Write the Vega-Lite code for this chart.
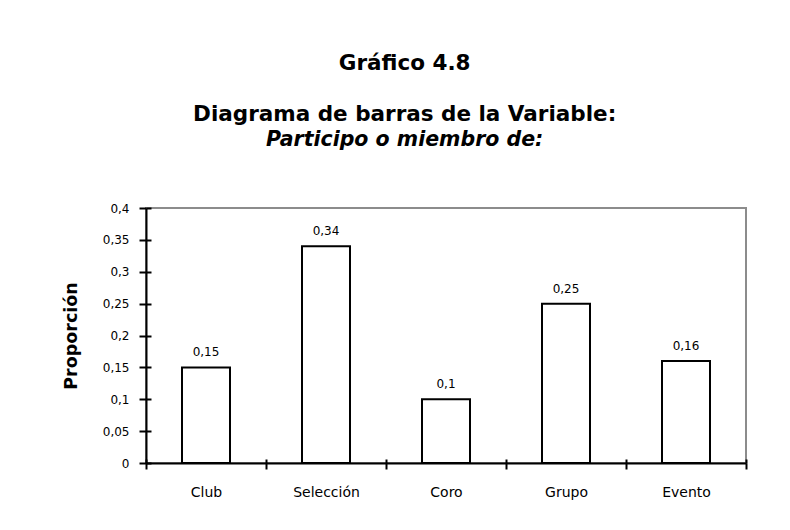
{
  "$schema": "https://vega.github.io/schema/vega-lite/v6.json",
  "width": 600,
  "height": 255,
  "autosize": {"type": "none"},
  "padding": {"left": 146, "top": 208, "right": 44, "bottom": 67},
  "background": "white",
  "data": {
    "values": [
      {"categoria": "Club", "proporcion": 0.15},
      {"categoria": "Selección", "proporcion": 0.34},
      {"categoria": "Coro", "proporcion": 0.1},
      {"categoria": "Grupo", "proporcion": 0.25},
      {"categoria": "Evento", "proporcion": 0.16}
    ]
  },
  "title": {
    "text": ["Gráfico 4.8", "Diagrama de barras de la Variable:"],
    "subtitle": "Participo o miembro de:",
    "font": "DejaVu Sans",
    "fontSize": 21.5,
    "fontWeight": "bold",
    "color": "black",
    "lineHeight": 51,
    "subtitleFont": "DejaVu Sans",
    "subtitleFontSize": 20.5,
    "subtitleFontWeight": "bold",
    "subtitleFontStyle": "italic",
    "subtitleColor": "black",
    "subtitlePadding": 4,
    "anchor": "middle",
    "frame": "bounds",
    "offset": 52
  },
  "layer": [
    {
      "mark": {"type": "bar", "fill": "white", "stroke": "black", "strokeWidth": 2, "width": {"band": 0.4}},
      "encoding": {
        "x": {
          "field": "categoria", "type": "nominal", "sort": null,
          "scale": {"paddingInner": 0, "paddingOuter": 0},
          "axis": {
            "orient": "bottom", "title": null, "tickBand": "extent", "tickSize": 6,
            "tickColor": "black", "tickWidth": 2, "domainColor": "black", "domainWidth": 2,
            "labelAngle": 0, "labelFont": "DejaVu Sans", "labelFontSize": 14,
            "labelColor": "black", "labelPadding": 16, "grid": false
          }
        },
        "y": {
          "field": "proporcion", "type": "quantitative",
          "scale": {"domain": [0, 0.4], "nice": false},
          "axis": {
            "orient": "left", "title": "Proporción", "titleFont": "DejaVu Sans",
            "titleFontSize": 17.5, "titleFontWeight": "bold", "titleColor": "black", "titlePadding": 22,
            "values": [0, 0.05, 0.1, 0.15, 0.2, 0.25, 0.3, 0.35, 0.4], "format": "~g",
            "labelFont": "DejaVu Sans", "labelFontSize": 12, "labelColor": "black", "labelPadding": 10,
            "tickSize": 7, "tickColor": "black", "tickWidth": 2,
            "domainColor": "black", "domainWidth": 2, "grid": false
          }
        }
      }
    },
    {
      "mark": {"type": "text", "baseline": "middle", "dy": -15, "font": "DejaVu Sans", "fontSize": 12, "color": "black"},
      "encoding": {
        "x": {
          "field": "categoria", "type": "nominal", "sort": null,
          "axis": {
            "orient": "bottom", "title": null, "labels": false, "domain": false, "tickBand": "extent",
            "tickSize": -4, "tickColor": "black", "tickWidth": 2, "grid": false
          }
        },
        "y": {
          "field": "proporcion", "type": "quantitative",
          "axis": {
            "orient": "left", "title": null, "labels": false, "domain": false,
            "values": [0, 0.05, 0.1, 0.15, 0.2, 0.25, 0.3, 0.35, 0.4],
            "tickSize": -5, "tickColor": "black", "tickWidth": 2, "grid": false
          }
        },
        "text": {"field": "proporcion", "type": "quantitative", "format": "~g"}
      }
    }
  ],
  "resolve": {"axis": {"x": "independent", "y": "independent"}},
  "config": {
    "locale": {"number": {"decimal": ",", "thousands": ".", "grouping": [3], "currency": ["", "€"]}},
    "view": {"stroke": "#8c8c8c", "strokeWidth": 2},
    "font": "DejaVu Sans"
  }
}
